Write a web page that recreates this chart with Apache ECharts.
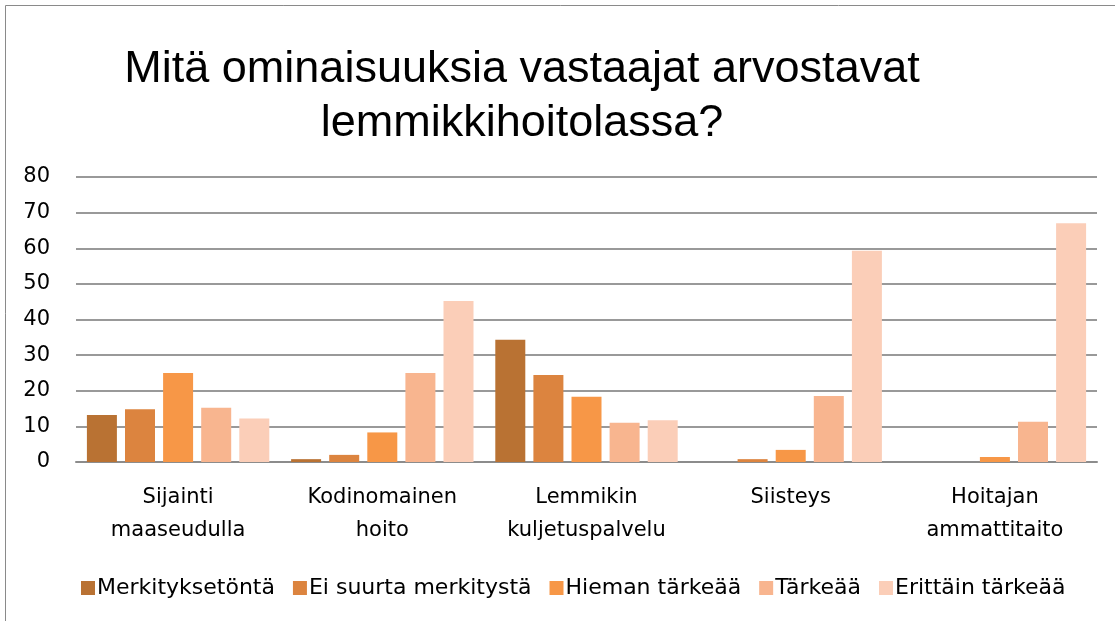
<!DOCTYPE html>
<html lang="fi">
<head>
    <meta charset="UTF-8">
    <title>Lemmikkihoitola</title>
    <style type="text/css">
        html,
        body,
        .canvas {
            padding: 0;
            margin: 0;
            overflow: hidden;
            background-color: #ffffff;
            width: 100%;
            height: 100%;
        }
    </style>
</head>
<body>
<div class="canvas" id="chart"></div>
<script type="text/javascript" src="https://cdn.jsdelivr.net/npm/echarts@6/dist/echarts.min.js"></script>
<script>
    const categories = ['Sijainti\nmaaseudulla', 'Kodinomainen\nhoito', 'Lemmikin\nkuljetuspalvelu', 'Siisteys', 'Hoitajan\nammattitaito'];
    const seriesNames = ['Merkityksetöntä', 'Ei suurta merkitystä', 'Hieman tärkeää', 'Tärkeää', 'Erittäin tärkeää'];
    const merkityksetonta = [13.2, 0.8, 34.3, 0, 0];
    const eiSuurta = [14.8, 2, 24.4, 0.8, 0];
    const hieman = [25, 8.3, 18.3, 3.4, 1.4];
    const tarkeaa = [15.2, 25, 11, 18.5, 11.3];
    const erittain = [12.2, 45.2, 11.7, 59.3, 67];
    const colors = ['#B97233', '#DC843F', '#F79747', '#F8B58F', '#FBCEB8'];

    const values = [merkityksetonta, eiSuurta, hieman, tarkeaa, erittain];
    const titleFont = '"Liberation Sans", sans-serif';
    const font = '"DejaVu Sans", sans-serif';

    const chart = echarts.init(document.getElementById('chart'));
    chart.setOption({
        animation: false,
        color: colors,
        title: {
            text: 'Mitä ominaisuuksia vastaajat arvostavat\nlemmikkihoitolassa?',
            left: 517,
            top: 38,
            textAlign: 'center',
            textStyle: {
                fontFamily: titleFont,
                fontSize: 45,
                fontWeight: 'normal',
                color: '#000',
                lineHeight: 54
            }
        },
        graphic: [{
            type: 'rect',
            shape: {x: 5.5, y: 5.5, width: 1300, height: 800},
            style: {fill: 'none', stroke: '#8a8a8a', lineWidth: 1}
        }],
        legend: {
            left: 76,
            top: 572,
            itemWidth: 14,
            itemHeight: 14,
            itemGap: 18,
            icon: 'rect',
            textStyle: {fontFamily: font, fontSize: 22, color: '#000', padding: [0, 0, 0, -3]},
            data: seriesNames
        },
        grid: {left: 76, right: 18, top: 177, bottom: 159},
        xAxis: {
            type: 'category',
            data: categories,
            axisTick: {show: false},
            axisLine: {lineStyle: {color: '#8c8c8c', width: 2}},
            axisLabel: {
                interval: 0,
                fontFamily: font,
                fontSize: 21,
                color: '#000',
                lineHeight: 33,
                margin: 19
            }
        },
        yAxis: {
            type: 'value',
            min: 0,
            max: 80,
            interval: 10,
            axisLine: {show: false},
            axisTick: {show: false},
            splitLine: {lineStyle: {color: '#999999', width: 2}},
            axisLabel: {fontFamily: font, fontSize: 21, color: '#000', margin: 26}
        },
        series: values.map(function (v, i) {
            return {
                name: seriesNames[i],
                type: 'bar',
                data: v,
                barWidth: 30,
                barGap: '27%'
            };
        })
    });
</script>
</body>
</html>
